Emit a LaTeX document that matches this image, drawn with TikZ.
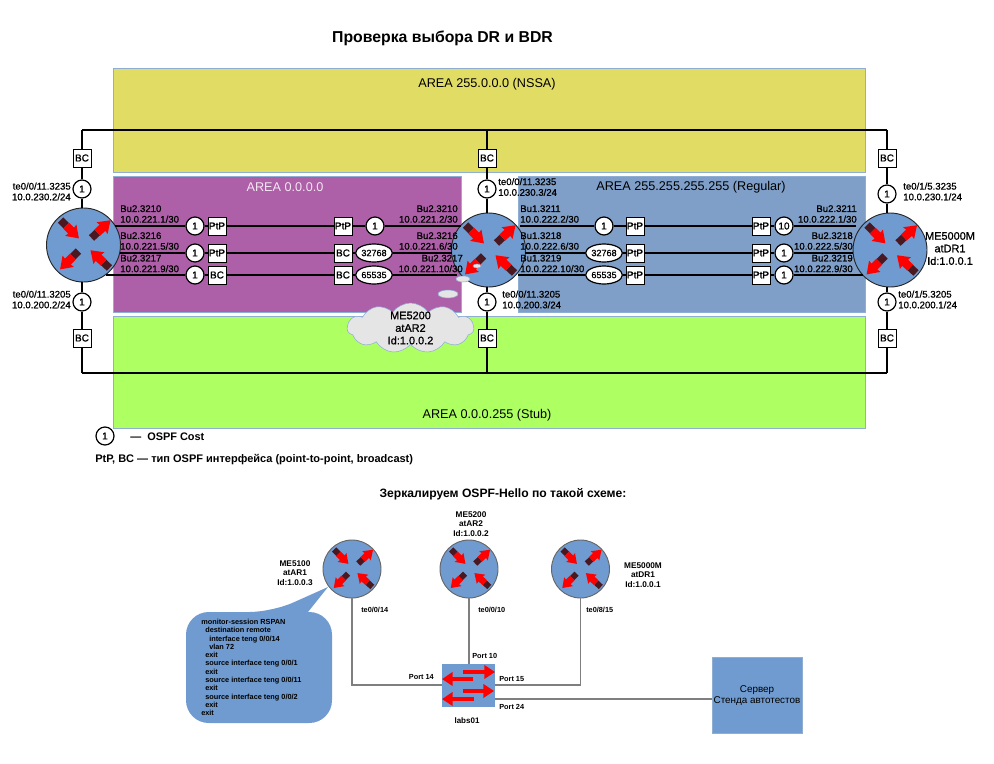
\documentclass[tikz,border=0pt]{standalone}
\usepackage{fontspec}
\setmainfont{Liberation Sans}
\newfontfamily\heavyfont[FakeBold=0.8]{Liberation Sans}
\usetikzlibrary{arrows.meta,shapes.geometric,shapes.symbols}
\definecolor{areayellow}{HTML}{E0DC64}
\definecolor{areapurple}{HTML}{AD5FA8}
\definecolor{areablue}{HTML}{7F9FC8}
\definecolor{areagreen}{HTML}{AEFF62}
\definecolor{areaedge}{HTML}{8FAED4}
\definecolor{routerblue}{HTML}{6F9BD0}
\definecolor{tailred}{HTML}{4A1820}
\definecolor{grayline}{HTML}{7F7F7F}
\tikzset{
  area/.style={draw=areaedge,line width=.6pt},
  routerball/.style={circle,draw=black!85,fill=routerblue,line width=.7pt,inner sep=0pt},
  bigrouter/.style={routerball,minimum size=55.5pt},
  smallrouter/.style={routerball,draw=black!60,minimum size=43.5pt},
  cost/.style={circle,draw=black,fill=white,line width=.9pt,minimum size=13.5pt,inner sep=0pt,font=\heavyfont\fontsize{7.5}{8}\selectfont},
  costwide/.style={ellipse,draw=black,fill=white,line width=.9pt,minimum width=27.5pt,minimum height=13.5pt,inner sep=0pt,font=\heavyfont\fontsize{6.8}{8}\selectfont},
  typebox/.style={rectangle,draw=black,fill=white,line width=.7pt,minimum size=13.5pt,inner sep=0pt,font=\heavyfont\fontsize{7.5}{8}\selectfont},
  link/.style={line width=.85pt},
  graylink/.style={line width=.9pt,draw=grayline},
  lbl/.style={inner sep=0pt,font=\heavyfont\fontsize{7.2}{8}\selectfont},
  lblw/.style={lbl,anchor=west,align=left},
  lble/.style={lbl,anchor=east,align=right},
  smalllbl/.style={inner sep=0pt,font=\bfseries\fontsize{5.5}{7}\selectfont},
  devlbl/.style={inner sep=0pt,align=center,font=\bfseries\fontsize{6.2}{7.2}\selectfont},
  arealbl/.style={inner sep=0pt,font=\fontsize{9.5}{11}\selectfont},
  swarrow/.style={draw=red,line width=2.4pt,-{Triangle[length=8pt,width=10pt]}},
  pics/routerarrows/.style={code={
    \foreach \tx/\ty/\a in {-23/-25/-45,8/-7/43,-5/6/-135,26/23/137}{
      \begin{scope}[shift={(\tx,\ty)},rotate=\a]
        \fill[tailred] (0,-3.8) rectangle (8,3.8);
        \fill[red] (8,-4.2) -- (15,-4.2) -- (14.5,-8) -- (26,0) -- (14.5,8) -- (15,4.2) -- (8,4.2) -- cycle;
      \end{scope}
    }
  }}
}
\begin{document}
\begin{tikzpicture}[x=.75pt,y=-.75pt]
\useasboundingbox (0,0) rectangle (994,763);
% areas
\draw[area,fill=areayellow] (113,68) rectangle (865,172);
\draw[area,fill=areapurple] (113,176) rectangle (461,312);
\draw[area,fill=areablue] (518,176) rectangle (865,312);
\draw[area,fill=areagreen] (113,316) rectangle (865,428);
\node[inner sep=0pt,font=\bfseries\fontsize{11.85}{14}\selectfont] (title) at (442.5,38) {Проверка выбора DR и BDR};
\node[arealbl] (nssa) at (487,84) {AREA 255.0.0.0 (NSSA)};
\node[arealbl,text=white!85!areapurple] (backbone) at (285,187) {AREA 0.0.0.0};
\node[arealbl] (regular) at (691,187) {AREA 255.255.255.255 (Regular)};
\node[arealbl] (stub) at (487,415) {AREA 0.0.0.255 (Stub)};
% routers
\node[bigrouter] (ra) at (83.5,245) {};
\node[bigrouter] (rb) at (488.5,250) {};
\node[bigrouter] (rc) at (890,250) {};
% uplinks and downlinks
\node[typebox] (bat) at (82,158) {BC};
\node[typebox] (bab) at (82,338) {BC};
\node[typebox] (bbt) at (487,158) {BC};
\node[typebox] (bbb) at (487,338) {BC};
\node[typebox] (bct) at (887,158) {BC};
\node[typebox] (bcb) at (887,338) {BC};
\node[cost] (cat) at (82,189) {1};
\node[cost] (cab) at (82,302) {1};
\node[cost] (cbt) at (487,189) {1};
\node[cost] (cbb) at (487,302) {1};
\node[cost] (cct) at (887,194) {1};
\node[cost] (ccb) at (887,302) {1};
\coordinate (tl) at (82,130);
\coordinate (tm) at (487,130);
\coordinate (tr) at (887,130);
\coordinate (dl) at (82,373);
\coordinate (dm) at (487,373);
\coordinate (dr) at (887,373);
\draw[link] (tl) -- (tr);
\draw[link] (dl) -- (dr);
\draw[link] (tl) -- (bat) -- (cat) -- (cat |- ra.north);
\draw[link] (tm) -- (bbt) -- (cbt) -- (cbt |- rb.north);
\draw[link] (tr) -- (bct) -- (cct) -- (cct |- rc.north);
\draw[link] (dl) -- (bab) -- (cab) -- (cab |- ra.south);
\draw[link] (dm) -- (bbb) -- (cbb) -- (cbb |- rb.south);
\draw[link] (dr) -- (bcb) -- (ccb) -- (ccb |- rc.south);
% area 0.0.0.0 links
\node[cost] (pa1) at (195,226) {1};
\node[cost] (pa2) at (195,253) {1};
\node[cost] (pa3) at (195,275) {1};
\node[typebox] (qa1) at (217,226) {PtP};
\node[typebox] (qa2) at (217,253) {PtP};
\node[typebox] (qa3) at (217,275) {BC};
\node[typebox] (qb1) at (343,226) {PtP};
\node[typebox] (qb2) at (343,253) {BC};
\node[typebox] (qb3) at (343,275) {BC};
\node[cost] (pb1) at (375,226) {1};
\node[costwide] (pb2) at (374,253) {32768};
\node[costwide] (pb3) at (374,275) {65535};
\coordinate (xa1) at (115,226);
\coordinate (xa2) at (120,253);
\coordinate (xa3) at (106,275);
\coordinate (xb1) at (461,226);
\coordinate (xb2) at (452,253);
\coordinate (xb3) at (457,275);
\foreach \i in {1,2,3}{
  \draw[link] (xa\i) -- (pa\i) -- (qa\i) -- (qb\i) -- (pb\i) -- (xb\i);
}
% area 255.255.255.255 links
\node[cost] (pc1) at (604,226) {1};
\node[costwide] (pc2) at (604,253) {32768};
\node[costwide] (pc3) at (604,275) {65535};
\node[typebox] (qc1) at (635,226) {PtP};
\node[typebox] (qc2) at (635,253) {PtP};
\node[typebox] (qc3) at (635,275) {PtP};
\node[typebox] (qd1) at (761,226) {PtP};
\node[typebox] (qd2) at (761,253) {PtP};
\node[typebox] (qd3) at (761,275) {PtP};
\node[cost] (pd1) at (784,226) {10};
\node[cost] (pd2) at (784,253) {1};
\node[cost] (pd3) at (784,275) {1};
\coordinate (xc1) at (520,226);
\coordinate (xc2) at (525,253);
\coordinate (xc3) at (518,275);
\coordinate (xd1) at (856,226);
\coordinate (xd2) at (853,253);
\coordinate (xd3) at (863,275);
\foreach \i in {1,2,3}{
  \draw[link] (xc\i) -- (pc\i) -- (qc\i) -- (qd\i) -- (pd\i) -- (xd\i);
}
\pic at (ra) {routerarrows};
\pic at (rb) {routerarrows};
\pic at (rc) {routerarrows};
% interface labels
\node[lble] (la1) at (71,191.5) {te0/0/11.3235\\10.0.230.2/24};
\node[lble] (la2) at (71,299.5) {te0/0/11.3205\\10.0.200.2/24};
\node[lblw] (la3) at (120,214) {Bu2.3210\\10.0.221.1/30};
\node[lblw] (la4) at (120,241) {Bu2.3216\\10.0.221.5/30};
\node[lblw] (la5) at (120,263.5) {Bu2.3217\\10.0.221.9/30};
\node[lble] (lb1) at (458,214) {Bu2.3210\\10.0.221.2/30};
\node[lble] (lb2) at (458,241) {Bu2.3216\\10.0.221.6/30};
\node[lble] (lb3) at (463,263.5) {Bu2.3217\\10.0.221.10/30};
\node[lblw] (lb4) at (498,187) {te0/0/11.3235\\10.0.230.3/24};
\node[lblw] (lb5) at (502,299.5) {te0/0/11.3205\\10.0.200.3/24};
\node[lblw] (lb6) at (520,214) {Bu1.3211\\10.0.222.2/30};
\node[lblw] (lb7) at (520,241) {Bu1.3218\\10.0.222.6/30};
\node[lblw] (lb8) at (520,263.5) {Bu1.3219\\10.0.222.10/30};
\node[lble] (lc1) at (857,214) {Bu2.3211\\10.0.222.1/30};
\node[lble] (lc2) at (853,241) {Bu2.3218\\10.0.222.5/30};
\node[lble] (lc3) at (853,263.5) {Bu2.3219\\10.0.222.9/30};
\node[lblw] (lc4) at (903,191.5) {te0/1/5.3235\\10.0.230.1/24};
\node[lblw] (lc5) at (898,299.5) {te0/1/5.3205\\10.0.200.1/24};
\node[inner sep=0pt,align=center,font=\heavyfont\fontsize{8.2}{9.4}\selectfont] (namec) at (950,248.5) {ME5000M\\atDR1\\Id:1.0.0.1};
% cloud
\node[ellipse,draw=areaedge,fill=black!10,minimum width=6pt,minimum height=3pt,inner sep=0pt] (puff1) at (477,266) {};
\node[ellipse,draw=areaedge,fill=black!10,minimum width=10.5pt,minimum height=4.5pt,inner sep=0pt] (puff2) at (463,279) {};
\node[ellipse,draw=areaedge,fill=black!10,minimum width=15pt,minimum height=6pt,inner sep=0pt] (puff3) at (448,294) {};
\node[cloud,cloud puffs=11,cloud puff arc=110,cloud ignores aspect,draw=areaedge,fill=black!10,inner sep=0pt,minimum width=95pt,minimum height=37.5pt] (cloudb) at (410.5,328) {};
\node[inner sep=0pt,align=center,font=\heavyfont\fontsize{8.2}{9.4}\selectfont] (cloudtext) at (cloudb) {ME5200\\atAR2\\Id:1.0.0.2};
% legend
\node[cost] (legcost) at (105,436) {1};
\node[inner sep=0pt,anchor=west,font=\bfseries\fontsize{8.2}{9}\selectfont] (legtext) at (130,436.5) {—\ \ OSPF Cost};
\node[inner sep=0pt,anchor=west,font=\bfseries\fontsize{8.25}{9}\selectfont] (legtype) at (95,460) {PtP, BC — тип OSPF интерфейса (point-to-point, broadcast)};
\node[inner sep=0pt,font=\bfseries\fontsize{9.1}{10}\selectfont] (mirror) at (503,494) {Зеркалируем OSPF-Hello по такой схеме:};
% mirror scheme
\node[smallrouter] (m1) at (352,569) {};
\node[smallrouter] (m2) at (469,569) {};
\node[smallrouter] (m3) at (580.5,569) {};
\foreach \m in {m1,m2,m3}{
  \pic[scale=.78] at (\m) {routerarrows};
}
\node[rectangle,fill=routerblue,minimum width=39.75pt,minimum height=32pt,inner sep=0pt] (labs) at (468.5,685.5) {};
\node[rectangle,draw=areaedge,fill=routerblue,minimum width=67.5pt,minimum height=57pt,inner sep=0pt] (server) at (757,695) {};
\node[inner sep=0pt,align=center,font=\fontsize{7.4}{8.4}\selectfont] (servertext) at (757,695.5) {Сервер\\Стенда автотестов};
\coordinate (p14) at (labs.west |- 0,685);
\coordinate (p15) at (labs.east |- 0,685);
\coordinate (p24) at (labs.east |- 0,699);
\coordinate (s24) at (server.west |- 0,699);
\draw[graylink] (m1.south) |- (p14);
\draw[graylink] (m2.south) -- (m2.south |- labs.north);
\draw[graylink] (m3.south) |- (p15);
\draw[graylink] (p24) -- (s24);
\coordinate (a1) at (463,672);
\coordinate (a2) at (495,672);
\coordinate (a3) at (473,679);
\coordinate (a4) at (442,679);
\coordinate (a5) at (463,691);
\coordinate (a6) at (494,691);
\coordinate (a7) at (474,699);
\coordinate (a8) at (442,699);
\draw[swarrow] (a1) -- (a2);
\draw[swarrow] (a3) -- (a4);
\draw[swarrow] (a5) -- (a6);
\draw[swarrow] (a7) -- (a8);
\node[devlbl] (name1) at (295,573) {ME5100\\atAR1\\Id:1.0.0.3};
\node[devlbl] (name2) at (471,524) {ME5200\\atAR2\\Id:1.0.0.2};
\node[devlbl] (name3) at (643,575) {ME5000M\\atDR1\\Id:1.0.0.1};
\node[smalllbl,anchor=west] (te1) at (361,610) {te0/0/14};
\node[smalllbl,anchor=west] (te2) at (478,610) {te0/0/10};
\node[smalllbl,anchor=west] (te3) at (586,610) {te0/8/15};
\node[smalllbl,anchor=east] (port14) at (434,677) {Port 14};
\node[smalllbl,anchor=west] (port10) at (472,656) {Port 10};
\node[smalllbl,anchor=west] (port15) at (499,679) {Port 15};
\node[smalllbl,anchor=west] (port24) at (499,707) {Port 24};
\node[smalllbl,font=\bfseries\fontsize{6}{7}\selectfont] (labsname) at (467,721) {labs01};
% callout
\fill[routerblue,rounded corners=17pt] (186,668) -- (186,612) -- (272,612) [sharp corners] -- (328,587) -- (308,612) [rounded corners=17pt] -- (332,612) -- (332,723) -- (186,723) -- cycle;
\node[inner sep=0pt,anchor=west,align=left,font=\bfseries\fontsize{5.5}{6.2}\selectfont] (rspan) at (201,667.5) {monitor-session RSPAN\\
\hspace*{3pt}destination remote\\
\hspace*{6pt}interface teng 0/0/14\\
\hspace*{6pt}vlan 72\\
\hspace*{3pt}exit\\
\hspace*{3pt}source interface teng 0/0/1\\
\hspace*{3pt}exit\\
\hspace*{3pt}source interface teng 0/0/11\\
\hspace*{3pt}exit\\
\hspace*{3pt}source interface teng 0/0/2\\
\hspace*{3pt}exit\\
exit};
\end{tikzpicture}
\end{document}
